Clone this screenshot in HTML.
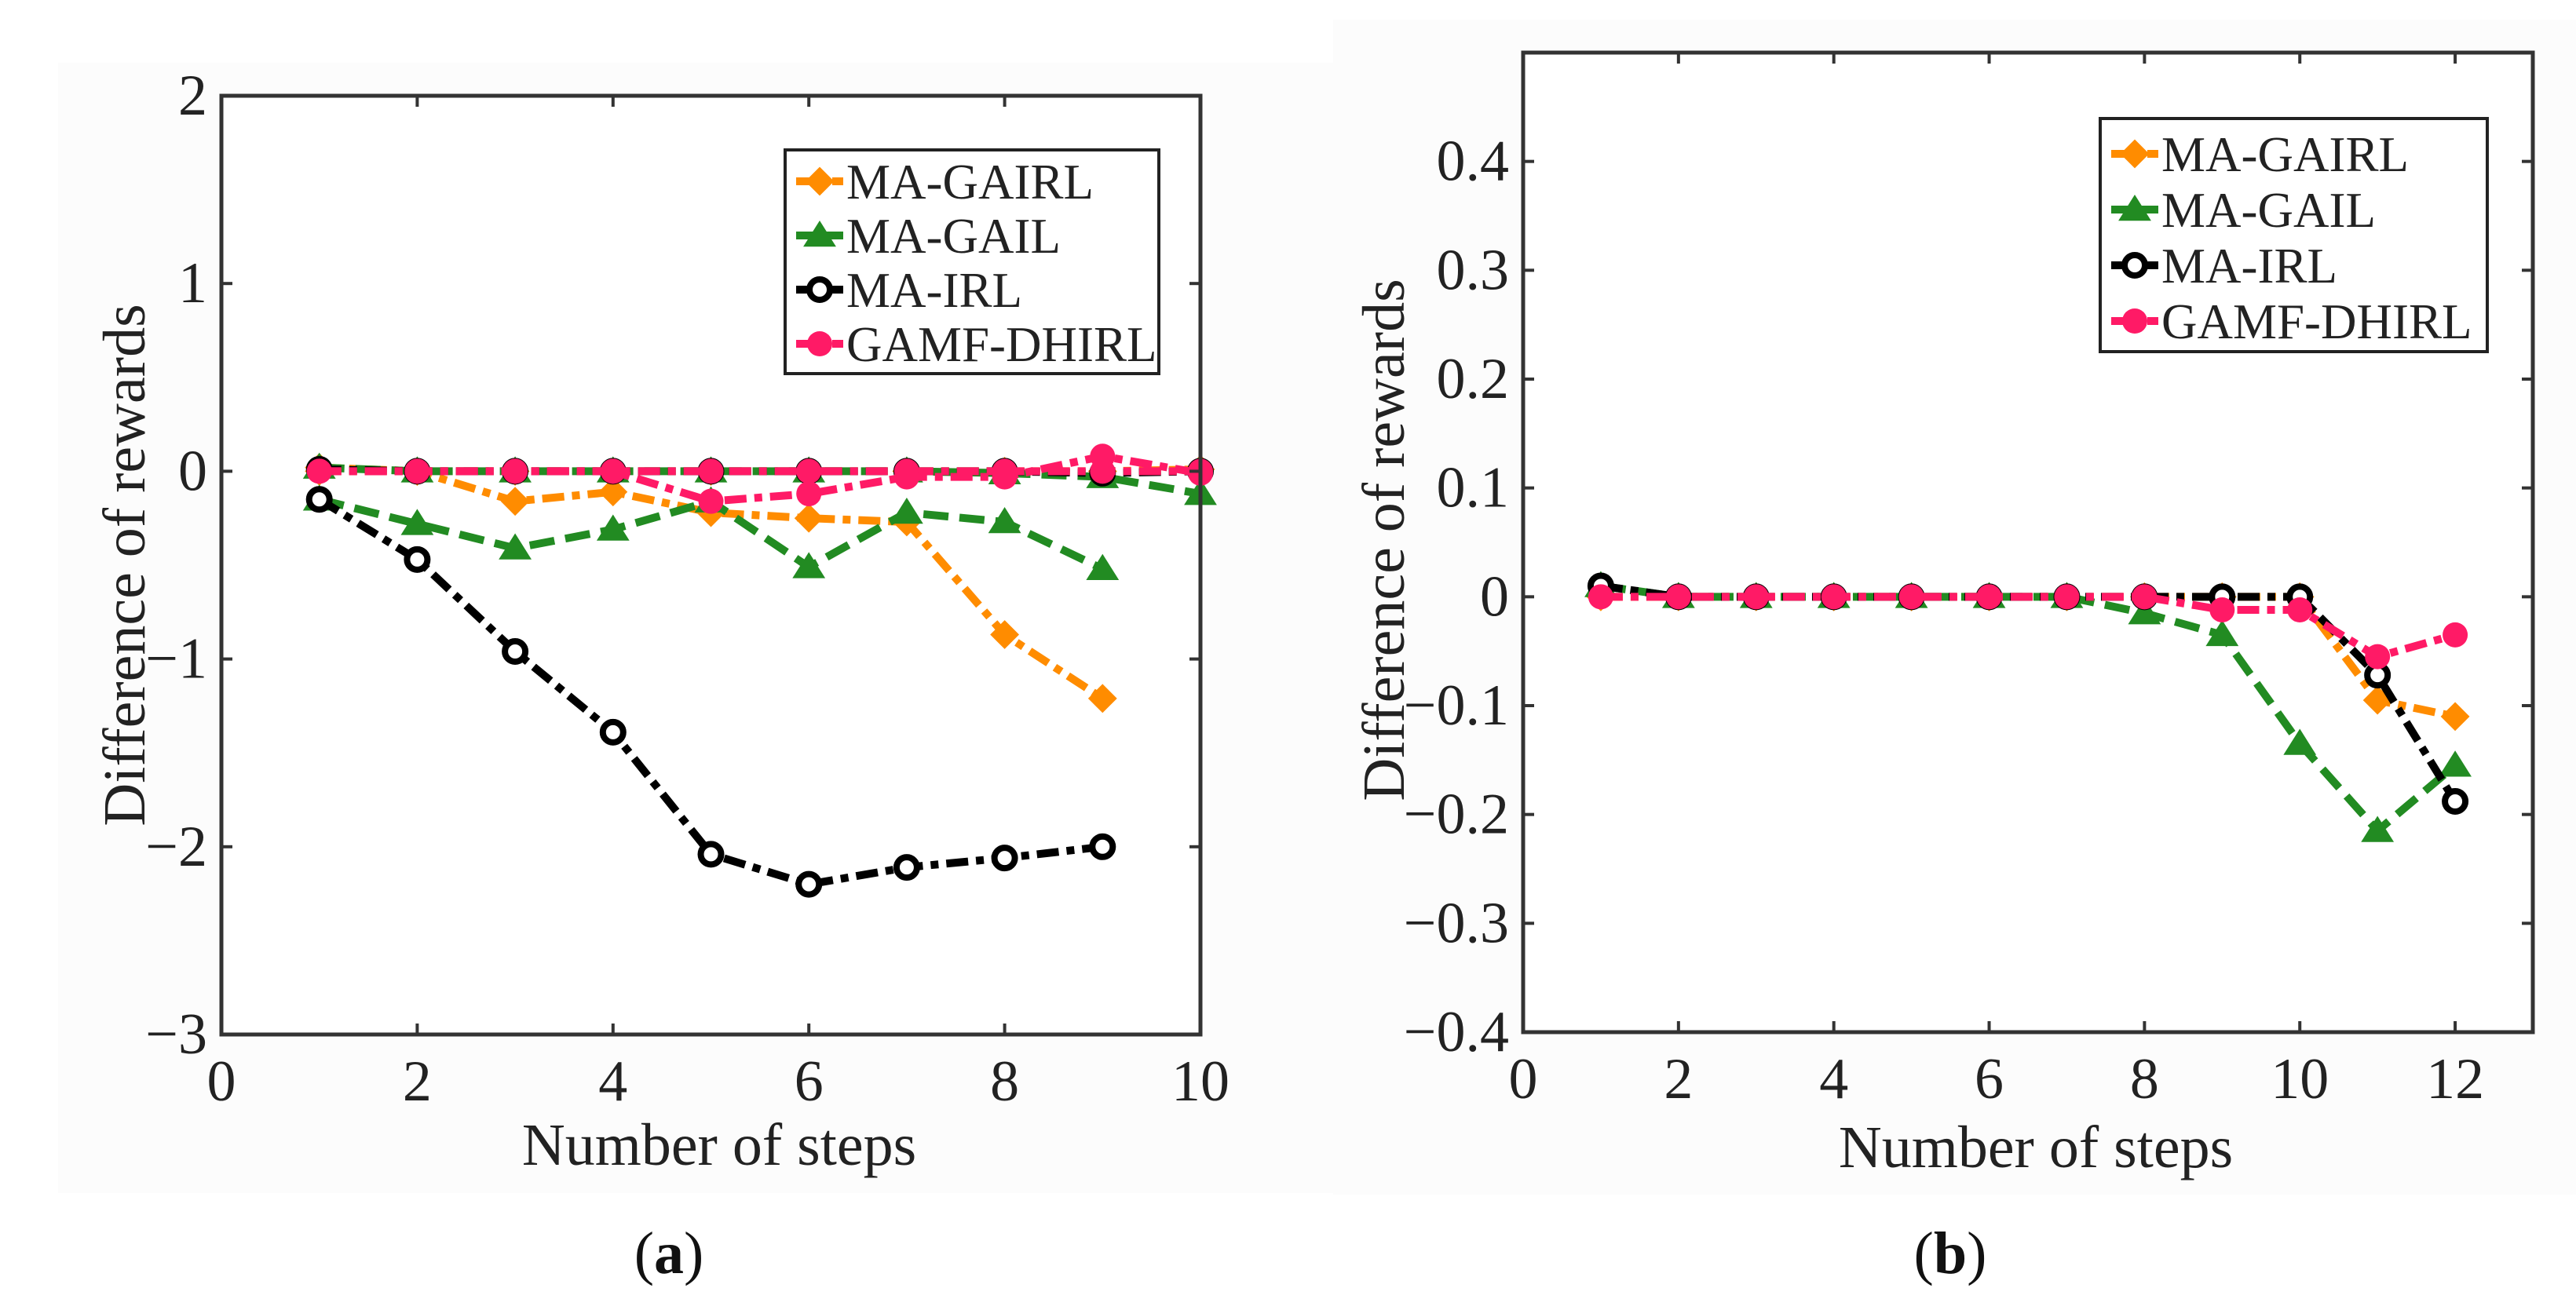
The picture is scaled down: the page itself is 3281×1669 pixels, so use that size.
<!DOCTYPE html>
<html><head><meta charset="utf-8"><style>
html,body{margin:0;padding:0;background:#fff;}
svg, svg text{font-family:"Liberation Serif","Times New Roman",serif;}
</style></head><body>
<svg id="fig" width="3281" height="1664" viewBox="0 0 3281 1664" xmlns="http://www.w3.org/2000/svg" font-family="Liberation Serif, serif">
<rect x="0" y="0" width="3281" height="1664" fill="#fff"/>
<rect x="74" y="80" width="1630" height="1440" fill="#fcfcfc"/>
<rect x="1698" y="25" width="1583" height="1497" fill="#fcfcfc"/>
</svg>
<script>
// ---- Panel (a) data ----
const xA = [1,2,3,4,5,6,7,8,9,10];
const aGairlMain = [0.02,0,-0.16,-0.11,-0.22,-0.25,-0.27,-0.87,-1.21];
const aGairlFlat = [0,0,0,0,0,0,0,0,0,0.01];
const aGailMain = [-0.15,-0.28,-0.41,-0.31,-0.16,-0.51,-0.22,-0.27,-0.52];
const aGailFlat = [0.02,0,0,0,0,0,0,-0.01,-0.03,-0.12];
const aIrlMain = [-0.15,-0.47,-0.96,-1.39,-2.04,-2.2,-2.11,-2.06,-2.0];
const aIrlFlat = [0.01,0,0,0,0,0,0,0,-0.01,0];
const aDhirlMain = [0,0,0,0,-0.16,-0.12,-0.03,-0.03,0.08,-0.01];
const aDhirlFlat = [0,0,0,0,0,0,0,0,0,0];
const aXTicks = [0,2,4,6,8,10];
const aYTicks = [-3,-2,-1,0,1,2];
// ---- Panel (b) data ----
const xB = [1,2,3,4,5,6,7,8,9,10,11,12];
const bGairl = [0,0,0,0,0,0,0,0,0,0,-0.095,-0.11];
const bGail = [0.01,0,0,0,0,0,0,-0.015,-0.035,-0.135,-0.215,-0.155];
const bIrl = [0.01,0,0,0,0,0,0,0,0,0,-0.072,-0.188];
const bDhirl = [0,0,0,0,0,0,0,0,-0.012,-0.012,-0.055,-0.035];
const bXTicks = [0,2,4,6,8,10,12];
const bYTicks = [-0.4,-0.3,-0.2,-0.1,0,0.1,0.2,0.3,0.4];
const bYLabels = ["\u22120.4","\u22120.3","\u22120.2","\u22120.1","0","0.1","0.2","0.3","0.4"];
const legendNames = ["MA-GAIRL","MA-GAIL","MA-IRL","GAMF-DHIRL"];

const NS="http://www.w3.org/2000/svg";
const FF="Liberation Serif, serif";
const svg=document.getElementById('fig');
const COL={gairl:"#ff8c00",gail:"#228b22",irl:"#000000",dhirl:"#ff1a66"};
const DASH={gairl:"28 10 10 10",gail:"32 14",irl:"28 10 10 10",dhirl:"28 10 10 10"};
function mk(tag,attrs,parent){const e=document.createElementNS(NS,tag);for(const k in attrs)e.setAttribute(k,attrs[k]);if(tag==='text')e.setAttribute('font-family',FF);(parent||svg).appendChild(e);return e;}

function marker(g,kind,x,y){
  let m;
  if(kind==='gairl'){const r=17;m=mk('polygon',{points:`${x},${y-r} ${x+r},${y} ${x},${y+r} ${x-r},${y}`,fill:COL.gairl,stroke:COL.gairl,'stroke-width':2},g);}
  else if(kind==='gail'){const r=19;m=mk('polygon',{points:`${x},${y-r} ${x+r*1.1},${y+r*0.75} ${x-r*1.1},${y+r*0.75}`,fill:COL.gail},g);}
  else if(kind==='irl'){m=mk('circle',{cx:x,cy:y,r:13,fill:'#fff',stroke:'#000','stroke-width':8},g);}
  else {m=mk('circle',{cx:x,cy:y,r:16,fill:COL.dhirl},g);}
  
  
}

function panel(p){
  const sx=v=>p.L+(v-p.x0)/(p.x1-p.x0)*(p.R-p.L);
  const sy=v=>p.B-(v-p.y0)/(p.y1-p.y0)*(p.B-p.T);
  const g=mk('g',{});
  
  
  mk('rect',{x:p.L,y:p.T,width:p.R-p.L,height:p.B-p.T,fill:'#fff'},g);
  p.series.forEach(s=>{
    const pts=s.vals.map((v,i)=>sx(p.xs[i])+','+sy(v)).join(' ');
    const pl=mk('polyline',{points:pts,fill:'none',stroke:COL[s.kind],'stroke-width':10,'stroke-dasharray':DASH[s.kind]},g);
    
    
    s.vals.forEach((v,i)=>marker(g,s.kind,sx(p.xs[i]),sy(v)));
  });
  mk('rect',{x:p.L,y:p.T,width:p.R-p.L,height:p.B-p.T,fill:'none',stroke:'#333','stroke-width':5},g);
  p.xt.forEach(t=>{
    const x=sx(t);
    mk('line',{x1:x,y1:p.B,x2:x,y2:p.B-14,stroke:'#333','stroke-width':4},g);
    mk('line',{x1:x,y1:p.T,x2:x,y2:p.T+14,stroke:'#333','stroke-width':4},g);
    const tx=mk('text',{x:x,y:p.B+84,'font-size':74,'text-anchor':'middle',fill:'#222'},g);
    tx.textContent=String(t);
    
    
  });
  p.yt.forEach((t,i)=>{
    const y=sy(t);
    mk('line',{x1:p.L,y1:y,x2:p.L+14,y2:y,stroke:'#333','stroke-width':4},g);
    mk('line',{x1:p.R,y1:y,x2:p.R-14,y2:y,stroke:'#333','stroke-width':4},g);
    const tx=mk('text',{x:p.L-18,y:y+24,'font-size':74,'text-anchor':'end',fill:'#222'},g);
    tx.textContent=p.yl[i];
    
    
  });
  const xl=mk('text',{x:p.xlx,y:p.xly,'font-size':76,'text-anchor':'middle',fill:'#222'},g);
  xl.textContent='Number of steps';
  
  
  const yl=mk('text',{x:0,y:0,'font-size':76,'text-anchor':'middle',fill:'#222',transform:`translate(${p.ylx},${p.yly}) rotate(-90)`},g);
  yl.textContent='Difference of rewards';
  
  
  const lg=mk('g',{},g);
  
  
  mk('rect',{x:p.lx,y:p.ly,width:p.lw,height:p.lh,fill:'#fff',stroke:'#222','stroke-width':4},lg);
  ['gairl','gail','irl','dhirl'].forEach((k,i)=>{
    const y=p.ly+p.l0+i*p.ld;
    const le=mk('g',{},lg);
    
    
    mk('line',{x1:p.lx+14,y1:y,x2:p.lx+74,y2:y,stroke:COL[k],'stroke-width':10,'stroke-dasharray':k==='gail'?'26 8':'22 8 8 8'},le);
    marker(le,k,p.lx+44,y);
    const t=mk('text',{x:p.lx+78,y:y+22,'font-size':63,fill:'#222'},le);
    t.textContent=legendNames[i];
  });
  const cap=mk('text',{x:p.cx,y:1622,'font-size':76,'text-anchor':'middle',fill:'#111'},g);
  cap.innerHTML='(<tspan font-weight="bold">'+p.cap+'</tspan>)';
  
  
}

panel({name:'panel-a',L:282,R:1529,T:122,B:1318,x0:0,x1:10,y0:-3,y1:2,xs:xA,
  series:[{kind:'gairl',vals:aGairlFlat},{kind:'gairl',vals:aGairlMain},{kind:'gail',vals:aGailFlat},{kind:'gail',vals:aGailMain},
          {kind:'irl',vals:aIrlFlat},{kind:'irl',vals:aIrlMain},{kind:'dhirl',vals:aDhirlFlat},{kind:'dhirl',vals:aDhirlMain}],
  xt:aXTicks,yt:aYTicks,yl:aYTicks.map(v=>v<0?'\u2212'+(-v):String(v)),
  xlx:916,xly:1484,ylx:184,yly:720,lx:1000,ly:191,lw:476,lh:285,l0:40,ld:69,cx:852,cap:'a'});
panel({name:'panel-b',L:1940,R:3226,T:67,B:1315,x0:0,x1:13,y0:-0.4,y1:0.5,xs:xB,
  series:[{kind:'gairl',vals:bGairl},{kind:'gail',vals:bGail},{kind:'irl',vals:bIrl},{kind:'dhirl',vals:bDhirl}],
  xt:bXTicks,yt:bYTicks,yl:bYLabels,
  xlx:2593,xly:1487,ylx:1788,yly:688,lx:2675,ly:151,lw:493,lh:297,l0:45,ld:71,cx:2484,cap:'b'});
</script>
</body></html>
